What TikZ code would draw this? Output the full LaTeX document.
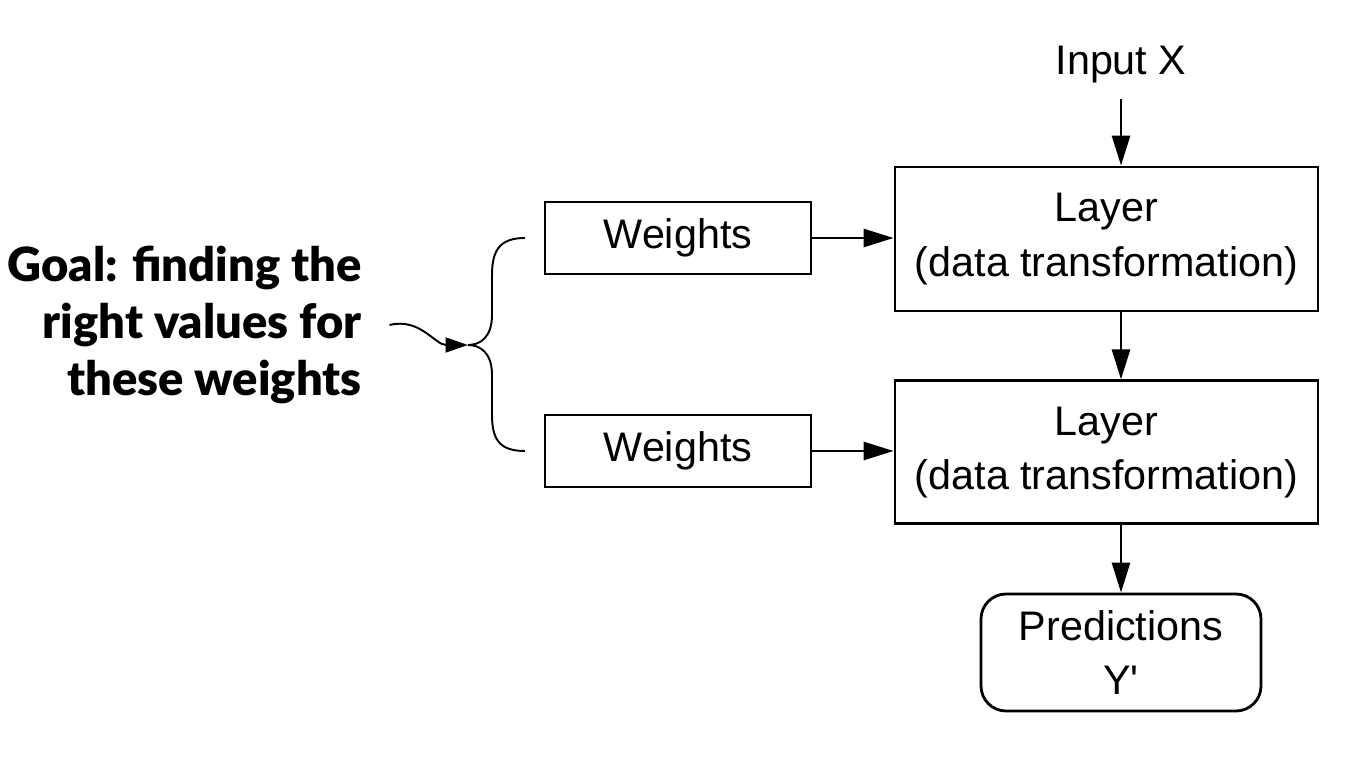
\documentclass[tikz,border=0pt]{standalone}
\usepackage{fontspec}
\setmainfont{Liberation Sans}
\newfontfamily\goalfont{Lato Black}
\usetikzlibrary{arrows.meta, positioning}

\begin{document}
\begin{tikzpicture}[
  box/.style={draw, line width=1.6pt, align=center, font=\fontsize{23.5}{31}\selectfont, inner sep=0pt},
  arrow/.style={-{Triangle[length=0.6cm, width=0.36cm]}, line width=1.6pt},
]
  \useasboundingbox (0,0) rectangle (27.16,-15.34);
  \node[box, minimum width=8.46cm, minimum height=2.88cm] (layer1) at (22.13,-4.78) {Layer\\(data transformation)};
  \node[box, minimum width=8.46cm, minimum height=2.86cm, below=1.34cm of layer1] (layer2) {Layer\\(data transformation)};
  \node[box, minimum width=5.32cm, minimum height=1.44cm] (weights1) at (13.56,-4.76) {Weights};
  \node[box, minimum width=5.32cm, minimum height=1.44cm] (weights2) at (13.56,-9.02) {Weights};
  \node[box, rounded corners=0.5cm, minimum width=5.6cm, minimum height=2.34cm] (pred) at (22.42,-13.05) {Predictions\\Y\textquotesingle};
  \node[font=\fontsize{23.5}{31}\selectfont, inner sep=0pt] (input) at (22.42,-1.3) {Input X};
  \node[font=\goalfont\fontsize{26.8}{32.4}\selectfont, align=right, anchor=east, inner sep=0pt] (goal) at (7.24,-6.5) {Goal: finding the\\right values for\\these weights};
  \draw[arrow] (input.south) ++(0,-0.3) coordinate (inx) -- (inx |- layer1.north);
  \draw[arrow] (layer1.south -| pred) -- (layer2.north -| pred);
  \draw[arrow] (layer2.south -| pred) -- (pred.north);
  \draw[arrow] (weights1) -- (weights1 -| layer1.west);
  \draw[arrow] (weights2) -- (weights2 -| layer2.west);
  % brace over both weights
  \coordinate (tip) at (9.36,-6.9);
  \draw[line width=1.1pt] (10.5,-4.76) .. controls (10.0,-4.76) and (9.84,-5.0) .. (9.84,-5.5) -- (9.84,-6.3)
    .. controls (9.84,-6.75) and (9.6,-6.9) .. (tip)
    .. controls (9.6,-6.9) and (9.84,-7.05) .. (9.84,-7.5) -- (9.84,-8.3)
    .. controls (9.84,-8.8) and (10.0,-9.02) .. (10.5,-9.02);
  \draw[line width=1.1pt, -{Triangle[length=0.45cm, width=0.3cm]}] ([xshift=0.55cm]goal.east) .. controls (8.4,-6.35) and (8.7,-6.9) .. (tip);
\end{tikzpicture}
\end{document}
